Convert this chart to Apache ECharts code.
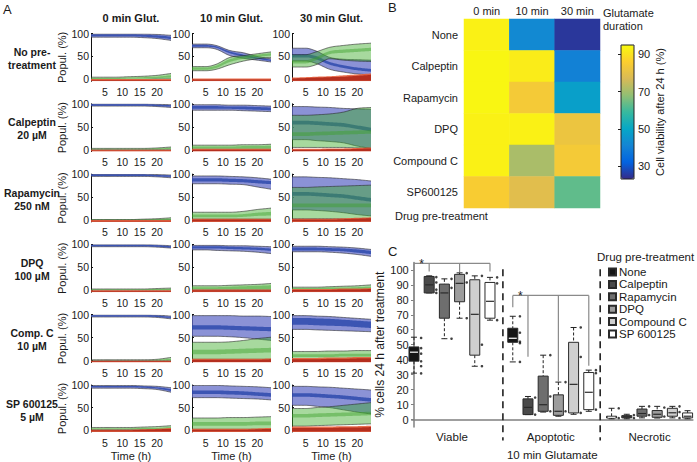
<!DOCTYPE html>
<html><head><meta charset="utf-8">
<script src="https://cdn.jsdelivr.net/npm/echarts@6/dist/echarts.min.js"></script>
<style>html,body{margin:0;padding:0;background:#fff}#c{width:697px;height:462px}</style>
</head><body><div id="c"></div><script>
// ---------------- Panel A data ----------------
const TIME = [1, 5, 8, 12, 16, 20, 24];
const GLUT_LABELS = ['0 min Glut.', '10 min Glut.', '30 min Glut.'];
const PRETREAT_LABELS = ['No pre-\ntreatment', 'Calpeptin\n20 µM', 'Rapamycin\n250 nM', 'DPQ\n100 µM', 'Comp. C\n10 µM', 'SP 600125\n5 µM'];
const X_TICKS_A = [5, 10, 15, 20];
const Y_TICKS_A = [0, 50, 100];
const LOW3 = [-4, -4, -4, -4, -4, -4, -4];
const LOW2 = [-3, -3, -3, -3, -3, -3, -3];

// each band = [lower, upper] over TIME
const none0 = { blueOut: [[92,92,92,92,91,89,85],[99,99,99,99,99,98,96]], blueIn: [[94,94,94,94,93,91,88],[98,98,98,98,97,96,93]],
  greenOut: [[0,0,0,0,0,1,1],[5,5,5,6,7,9,13]], greenIn: [[1,1,1,2,2,3,4],[3,3,3,4,5,6,9]], red: [LOW3,[1,1,1,1,1,1,1]], redIn: [LOW2,[-1,-1,-1,-1,-1,-1,-1]] };
const none10 = { blueOut: [[69,69,66,52,46,42,38],[77,77,74,63,58,50,45]], blueIn: [[71,71,69,57,50,45,40],[75,75,72,61,54,48,43]],
  greenOut: [[19,19,22,32,40,45,48],[28,28,33,48,52,56,60]], greenIn: [[21,21,25,38,45,49,52],[26,26,30,44,50,54,57]], red: [LOW3,[2,2,2,2,2,2,2]], redIn: [LOW2,[0,0,0,0,0,0,0]] };
const none30 = { blueOut: [[40,40,35,22,16,12,10],[68,68,62,48,44,43,42]], blueIn: [[48,48,44,32,25,20,17],[55,55,51,38,31,26,23]],
  greenOut: [[27,27,32,45,42,40,39],[54,54,60,70,74,77,79]], greenIn: [[35,35,42,55,58,60,62],[42,42,49,62,65,67,69]], red: [LOW3,[4,5,6,7,9,11,13]], redIn: [LOW2,[2,3,4,5,6,8,10]] };
const cal0 = { blueOut: [[95,95,95,95,95,94,92],[100,100,100,100,100,99,98]], blueIn: [[96,96,96,96,96,95,94],[99,99,99,99,99,98,97]],
  greenOut: [[0,0,0,0,0,0,0],[3,3,3,3,3,4,6]], greenIn: [[1,1,1,1,1,1,2],[2,2,2,2,2,3,4]], red: [LOW3,[0,0,0,0,0,0,0]], redIn: [LOW2,[-1.5,-1.5,-1.5,-1.5,-1.5,-1.5,-1.5]] };
const cal10 = { blueOut: [[86,86,86,86,85,84,83],[98,98,98,97,97,96,95]], blueIn: [[89,89,89,89,88,87,86],[95,95,95,94,94,93,92]],
  greenOut: [[1,1,1,1,1,1,1],[10,10,10,10,11,11,12]], greenIn: [[3,3,3,3,3,3,3],[7,7,7,7,8,8,9]], red: [LOW3,[2,2,2,2,2,2,2]], redIn: [LOW2,[0,0,0,0,0,0,0]] };
const cal30 = { blueOut: [[22,22,20,18,15,8,3],[94,94,93,92,90,89,88]], blueIn: [[55,55,54,52,50,45,40],[63,63,62,60,58,53,48]],
  greenOut: [[5,5,5,5,5,4,3],[75,75,76,78,82,90,92]], greenIn: [[30,30,31,32,33,34,35],[38,38,39,40,41,42,43]], red: [LOW3,[2,2,2,3,3,4,5]], redIn: [LOW2,[0,0,0,1,1,2,3]] };
const rap0 = { blueOut: [[95,95,95,95,95,94,92],[100,100,100,100,100,99,98]], blueIn: [[96,96,96,96,96,95,94],[99,99,99,99,99,98,97]],
  greenOut: [[0,0,0,0,0,0,0],[1,1,1,1,2,3,5]], greenIn: [[0,0,0,0,0,0,0],[1,1,1,1,1,2,3]], red: [LOW3,[0,0,0,0,0,0,0]], redIn: [LOW2,[-1.5,-1.5,-1.5,-1.5,-1.5,-1.5,-1.5]] };
const rap10 = { blueOut: [[79,79,79,78,77,72,67],[96,96,96,95,94,92,89]], blueIn: [[84,84,84,83,82,80,78],[91,91,91,90,89,87,85]],
  greenOut: [[2,2,2,2,2,2,2],[17,17,17,17,19,23,26]], greenIn: [[6,6,6,6,7,9,10],[12,12,12,12,13,16,18]], red: [LOW3,[3,3,3,3,3,3,3]], redIn: [LOW2,[1,1,1,1,1,1,1]] };
const rap30 = { blueOut: [[22,22,21,19,16,12,9],[94,94,93,92,90,88,85]], blueIn: [[53,53,52,50,48,44,40],[61,61,60,58,56,52,48]],
  greenOut: [[3,3,3,3,3,3,3],[71,71,72,73,74,75,76]], greenIn: [[28,28,28,28,28,28,28],[36,36,36,36,36,36,36]], red: [LOW3,[3,3,3,3,4,5,6]], redIn: [LOW2,[1,1,1,1,2,3,4]] };
const dpq0 = { blueOut: [[95,95,95,95,95,94,92],[100,100,100,100,100,99,97]], blueIn: [[96,96,96,96,96,95,93],[99,99,99,99,99,98,96]],
  greenOut: [[0,0,0,0,0,0,0],[3,3,3,3,3,4,5]], greenIn: [[1,1,1,1,1,1,1],[2,2,2,2,2,3,3]], red: [LOW3,[0,0,0,0,0,0,0]], redIn: [LOW2,[-1.5,-1.5,-1.5,-1.5,-1.5,-1.5,-1.5]] };
const dpq10 = { blueOut: [[88,88,87,86,85,83,80],[98,98,98,97,97,96,95]], blueIn: [[91,91,91,90,89,88,86],[96,96,96,95,94,93,91]],
  greenOut: [[1,1,1,1,1,1,1],[10,10,10,11,12,13,15]], greenIn: [[3,3,3,3,3,3,3],[7,7,7,8,9,10,11]], red: [LOW3,[2,2,2,2,2,2,2]], redIn: [LOW2,[0,0,0,0,0,0,0]] };
const dpq30 = { blueOut: [[84,84,84,83,81,78,74],[96,96,96,95,94,92,89]], blueIn: [[87,87,87,86,85,82,79],[93,93,93,92,91,89,86]],
  greenOut: [[1,1,1,1,1,1,1],[7,7,7,8,9,10,12]], greenIn: [[3,3,3,3,3,3,3],[5,5,5,6,6,7,8]], red: [LOW3,[3,3,3,3,4,4,5]], redIn: [LOW2,[1,1,1,1,2,2,3]] };
const cc0 = { blueOut: [[95,95,95,95,95,94,91],[100,100,100,100,100,99,97]], blueIn: [[96,96,96,96,96,95,93],[99,99,99,99,99,98,95]],
  greenOut: [[0,0,0,0,0,0,0],[2,2,2,2,2,3,7]], greenIn: [[1,1,1,1,1,1,1],[1,1,1,1,1,2,4]], red: [LOW3,[0,0,0,0,0,0,0]], redIn: [LOW2,[-1.5,-1.5,-1.5,-1.5,-1.5,-1.5,-1.5]] };
const cc10 = { blueOut: [[53,53,53,52,50,47,44],[98,98,98,98,97,97,96]], blueIn: [[68,68,68,67,66,65,64],[77,77,77,76,75,74,73]],
  greenOut: [[3,3,3,3,3,3,3],[40,40,40,41,44,48,51]], greenIn: [[14,14,14,15,16,17,18],[24,24,24,25,26,27,28]], red: [LOW3,[4,4,4,4,4,4,5]], redIn: [LOW2,[2,2,2,2,2,2,3]] };
const cc30 = { blueOut: [[68,68,67,66,65,64,63],[98,98,97,96,94,92,90]], blueIn: [[78,78,77,76,75,73,71],[93,93,92,91,89,87,85]],
  greenOut: [[2,2,2,2,2,2,2],[20,20,20,21,21,22,22]], greenIn: [[8,8,8,8,9,9,9],[14,14,14,14,15,15,15]], red: [LOW3,[6,6,6,7,7,8,8]], redIn: [LOW2,[3,3,3,4,4,5,5]] };
const sp0 = { blueOut: [[93,93,93,93,92,90,84],[99,99,99,99,98,97,94]], blueIn: [[95,95,95,95,94,92,87],[98,98,98,98,97,95,91]],
  greenOut: [[1,1,1,1,1,1,1],[6,6,6,6,7,8,10]], greenIn: [[2,2,2,2,2,2,3],[4,4,4,4,5,5,7]], red: [LOW3,[1,1,1,1,2,3,5]], redIn: [LOW2,[0,0,0,0,1,2,3]] };
const sp10 = { blueOut: [[72,72,72,71,70,69,67],[99,99,99,98,97,96,94]], blueIn: [[80,80,80,79,78,76,74],[88,88,88,87,86,84,82]],
  greenOut: [[2,2,2,2,2,2,2],[27,27,27,28,28,29,30]], greenIn: [[10,10,10,10,10,11,11],[18,18,18,18,18,19,19]], red: [LOW3,[3,3,3,3,3,4,5]], redIn: [LOW2,[1,1,1,1,1,2,3]] };
const sp30 = { blueOut: [[55,55,53,50,45,40,36],[97,97,96,95,93,91,89]], blueIn: [[74,74,73,71,69,66,63],[82,82,81,79,77,74,71]],
  greenOut: [[9,9,10,11,12,13,14],[48,48,50,52,55,58,61]], greenIn: [[28,28,29,30,31,32,33],[36,36,37,38,39,40,41]], red: [LOW3,[8,8,8,8,9,9,10]], redIn: [LOW2,[5,5,5,5,6,6,7]] };
const PANELS = [[none0, none10, none30], [cal0, cal10, cal30], [rap0, rap10, rap30], [dpq0, dpq10, dpq30], [cc0, cc10, cc30], [sp0, sp10, sp30]];

// ---------------- Panel B data ----------------
const GLUT_DURATIONS = ['0 min', '10 min', '30 min'];
const DRUGS_B = ['None', 'Calpeptin', 'Rapamycin', 'DPQ', 'Compound C', 'SP600125'];
const VIAB_0 = [93, 94, 94, 93, 93, 85];
const VIAB_10 = [42, 92, 84, 93, 71, 79];
const VIAB_30 = [25, 40, 48, 82, 84, 63];
const CBAR_TICKS = [30, 50, 70, 90];
const PARULA = ['#352A87', '#0363E1', '#1485D4', '#06A7C6', '#38B99E', '#92BF73', '#D9BA56', '#FCCE2E', '#F9FB0E'];

// ---------------- Panel C data ----------------
const DRUGS_C = ['None', 'Calpeptin', 'Rapamycin', 'DPQ', 'Compound C', 'SP 600125'];
const GROUPS_C = ['Viable', 'Apoptotic', 'Necrotic'];
const Y_TICKS_C = [0, 10, 20, 30, 40, 50, 60, 70, 80, 90, 100];
// [min, q1, median, q3, max] for Viable, Apoptotic, Necrotic
const BOX_NONE = [[31, 39, 45, 48.5, 55], [38.5, 51.6, 54.3, 61, 69], [0.5, 1, 1.5, 2.2, 7.5]];
const BOX_CALP = [[84.6, 84.6, 90, 95.6, 96], [3.3, 3.3, 8.1, 13.8, 15.4], [0.5, 1.1, 1.8, 2.6, 3.5]];
const BOX_RAPA = [[54, 67.7, 84.6, 90.5, 94], [5, 5.5, 9.9, 29, 43], [1.1, 2.2, 4, 7, 8.8]];
const BOX_DPQ = [[67.7, 78.7, 91, 97, 98], [2.2, 2.8, 5.5, 16.5, 25], [1, 1.5, 3.5, 6, 8.8]];
const BOX_CC = [[35.6, 43, 70.3, 93.4, 96], [3.5, 4.4, 23.5, 51.6, 61.5], [1.1, 2.2, 4.5, 7.5, 8.8]];
const BOX_SP = [[66.4, 67.7, 79, 91.6, 95], [5.5, 6.6, 18.2, 31.4, 33], [0.5, 1.1, 2.2, 4.4, 5.9]];
const DOTS_NONE = [[54.5, 47.7, 44, 38.9, 35.6, 30.8], [69, 58, 52, 51, 38.5], [7.5, 1]];
const DOTS_CALP = [[95.2, 91.6, 86.8, 84.6], [14.7, 3.3], [3, 1]];
const DOTS_RAPA = [[94, 88, 54], [43, 15.4, 5.5], [8.8, 3]];
const DOTS_DPQ = [[97.8, 91.6, 67.7], [25, 5.5], [8, 2]];
const DOTS_CC = [[96, 50, 35.6], [61.5, 41.8, 4.4], [8.8, 5, 1]];
const DOTS_SP = [[95, 91, 66.4], [33, 31, 6.6], [5.9, 3, 1]];
const BOXES = [BOX_NONE, BOX_CALP, BOX_RAPA, BOX_DPQ, BOX_CC, BOX_SP];
const DOTS = [DOTS_NONE, DOTS_CALP, DOTS_RAPA, DOTS_DPQ, DOTS_CC, DOTS_SP];

// ---------------- styling / layout ----------------
const FONT = '"Liberation Sans", Arial, sans-serif';
const TXT = '#1a1a1a';
const COL_LEFT = [91, 192, 292];
const COL_W = [80, 79, 79];
const ROW_TOP0 = 33.5, ROW_STEP = 70.3, GRID_H = 47.8;
const BAND_STYLE = {
  blueOut: { fill: 'rgba(100,110,200,0.75)', outline: true },
  blueIn: { fill: 'rgba(40,70,170,0.8)', outline: false },
  greenOut: { fill: 'rgba(60,170,40,0.45)', outline: true },
  greenIn: { fill: 'rgba(60,160,40,0.45)', outline: false },
  red: { fill: 'rgba(232,95,60,0.9)', outline: false },
  redIn: { fill: 'rgba(175,40,25,0.9)', outline: false }
};
const BOX_FILL = ['#151515', '#4a4a4a', '#6e6e6e', '#9c9c9c', '#cfcfcf', '#ffffff'];
const MED_COLOR = ['#ffffff', '#2a2a2a', '#2a2a2a', '#2a2a2a', '#2a2a2a', '#2a2a2a'];
const GROUP_STEP = 6.5;
const SEPARATORS = [5.85, 12.25];
const BRACKETS = [
  { group: 0, top: 104.4, legs: [[0, 60.4], [1, 99], [3, 98.5], [5, 99]], star: 0.5 },
  { group: 1, top: 82.9, legs: [[0, 75], [1, 42], [3, 25.5], [5, 36]], star: 0.5 }
];

const option = {
  animation: false,
  backgroundColor: '#fff',
  textStyle: { fontFamily: FONT },
  grid: [], xAxis: [], yAxis: [], series: [], graphic: []
};

// monotone cubic smoothing of pixel points (drawing only)
function smoothPts(pts, seg) {
  const n = pts.length;
  if (n < 3) return pts;
  const dx = [], m = [];
  for (let i = 0; i < n - 1; i++) { dx[i] = pts[i + 1][0] - pts[i][0]; m[i] = (pts[i + 1][1] - pts[i][1]) / dx[i]; }
  const t = [m[0]];
  for (let i = 1; i < n - 1; i++) t[i] = (m[i - 1] * m[i] <= 0) ? 0 : (m[i - 1] + m[i]) / 2;
  t[n - 1] = m[n - 2];
  for (let i = 0; i < n - 1; i++) {
    if (m[i] === 0) { t[i] = 0; t[i + 1] = 0; continue; }
    const a = t[i] / m[i], b = t[i + 1] / m[i], s = a * a + b * b;
    if (s > 9) { const k = 3 / Math.sqrt(s); t[i] = k * a * m[i]; t[i + 1] = k * b * m[i]; }
  }
  const out = [];
  for (let i = 0; i < n - 1; i++) {
    for (let j = 0; j < seg; j++) {
      const u = j / seg, u2 = u * u, u3 = u2 * u;
      const y = (2 * u3 - 3 * u2 + 1) * pts[i][1] + (u3 - 2 * u2 + u) * dx[i] * t[i] + (-2 * u3 + 3 * u2) * pts[i + 1][1] + (u3 - u2) * dx[i] * t[i + 1];
      out.push([pts[i][0] + u * dx[i], y]);
    }
  }
  out.push(pts[n - 1]);
  return out;
}

// ---- Panel A ----
function makeBandRenderer(st) {
  return function (params, api) {
    if (params.dataIndexInside !== 0) return null;
    const n = params.dataInsideLength;
    const up = [], lo = [];
    for (let i = 0; i < n; i++) {
      up.push(api.coord([api.value(0, i), api.value(2, i)]));
      lo.push(api.coord([api.value(0, i), api.value(1, i)]));
    }
    const upS = smoothPts(up, 10), loS = smoothPts(lo, 10);
    const children = [{ type: 'polygon', shape: { points: upS.concat(loS.slice().reverse()) }, style: { fill: st.fill, stroke: null } }];
    if (st.outline) {
      const ls = { stroke: 'rgba(40,40,40,0.85)', lineWidth: 0.7, fill: null };
      children.push({ type: 'polyline', shape: { points: upS }, style: ls });
      children.push({ type: 'polyline', shape: { points: loS }, style: ls });
    }
    return { type: 'group', children };
  };
}
PANELS.forEach((row, r) => row.forEach((p, c) => {
  const k = r * 3 + c;
  option.grid.push({ left: COL_LEFT[c], top: ROW_TOP0 + r * ROW_STEP, width: COL_W[c], height: GRID_H });
  option.xAxis.push({ type: 'value', gridIndex: k, min: 1, max: 24,
    axisLine: { show: false }, axisTick: { show: false }, splitLine: { show: false },
    axisLabel: { customValues: X_TICKS_A, fontSize: 10.5, color: TXT, margin: 5 },
    name: r === 5 ? 'Time (h)' : '', nameLocation: 'middle', nameGap: 18, nameTextStyle: { fontSize: 11, color: TXT } });
  option.yAxis.push({ type: 'value', gridIndex: k, min: -4, max: 100,
    axisLine: { show: true, lineStyle: { color: '#111', width: 1 } },
    axisTick: { show: true, inside: true, length: 2, customValues: Y_TICKS_A, lineStyle: { color: '#111' } },
    axisLabel: { customValues: Y_TICKS_A, fontSize: 10.5, color: TXT, margin: 2 }, splitLine: { show: false },
    name: c === 0 ? 'Popul. (%)' : '', nameLocation: 'middle', nameRotate: 90, nameGap: 19, nameTextStyle: { fontSize: 11, color: TXT } });
  ['blueOut', 'blueIn', 'greenOut', 'greenIn', 'red', 'redIn'].forEach(key => {
    const band = p[key];
    option.series.push({ type: 'custom', xAxisIndex: k, yAxisIndex: k, silent: true, clip: true,
      renderItem: makeBandRenderer(BAND_STYLE[key]), encode: { x: 0, y: [1, 2] },
      data: TIME.map((t, i) => [t, band[0][i], band[1][i]]) });
  });
}));
GLUT_LABELS.forEach((t, c) => option.graphic.push({ type: 'text', x: COL_LEFT[c] + COL_W[c] / 2, y: 18,
  style: { text: t, font: 'bold 11px ' + FONT, fill: TXT, align: 'center', verticalAlign: 'middle' } }));
PRETREAT_LABELS.forEach((t, r) => option.graphic.push({ type: 'text', x: 32, y: ROW_TOP0 + r * ROW_STEP + 25,
  style: { text: t, font: 'bold 10.5px ' + FONT, fill: TXT, align: 'center', verticalAlign: 'middle', lineHeight: 13 } }));
option.graphic.push({ type: 'text', x: 3, y: 3, style: { text: 'A', font: '13px ' + FONT, fill: TXT } });

// ---- Panel B ----
const HEAT_GRID = 18;
option.grid.push({ left: 464, top: 19, width: 136, height: 189 });
option.xAxis.push({ type: 'category', gridIndex: HEAT_GRID, data: GLUT_DURATIONS, position: 'top',
  axisLine: { show: false }, axisTick: { show: false }, splitLine: { show: false }, axisLabel: { fontSize: 11, color: TXT, margin: 3 } });
option.yAxis.push({ type: 'category', gridIndex: HEAT_GRID, data: DRUGS_B, inverse: true,
  axisLine: { show: false }, axisTick: { show: false }, splitLine: { show: false }, axisLabel: { fontSize: 11, color: TXT, margin: 6 } });
const HEAT_SERIES = option.series.length;
const heatData = [];
[VIAB_0, VIAB_10, VIAB_30].forEach((col, x) => col.forEach((v, y) => heatData.push([x, y, v])));
option.series.push({ type: 'heatmap', xAxisIndex: HEAT_GRID, yAxisIndex: HEAT_GRID, data: heatData, silent: true, itemStyle: { borderWidth: 0 } });
// colorbar axis
const CB_GRID = 19;
option.grid.push({ left: 621, top: 45, width: 13, height: 134, show: true, borderColor: '#222', borderWidth: 1, backgroundColor: 'transparent', z: 10 });
option.xAxis.push({ type: 'value', gridIndex: CB_GRID, show: false, min: 0, max: 1 });
option.yAxis.push({ type: 'value', gridIndex: CB_GRID, min: 23, max: 95, position: 'right', z: 10,
  axisLine: { show: false }, splitLine: { show: false },
  axisTick: { show: true, inside: true, length: 3, customValues: CBAR_TICKS, lineStyle: { color: '#222' } },
  axisLabel: { customValues: CBAR_TICKS, fontSize: 11, color: TXT, margin: 4 },
  name: 'Cell viability after 24 h (%)', nameLocation: 'middle', nameRotate: 90, nameGap: 20, nameTextStyle: { fontSize: 11, color: TXT } });
option.visualMap = [{ type: 'continuous', min: 23, max: 95, seriesIndex: HEAT_SERIES, left: 621, top: 45,
  itemWidth: 13, itemHeight: 134, padding: 0, calculable: false, text: null, showLabel: false, hoverLink: false,
  orient: 'vertical', inRange: { color: PARULA } }];
option.graphic.push({ type: 'text', x: 388, y: 1, style: { text: 'B', font: '13px ' + FONT, fill: TXT } });
option.graphic.push({ type: 'text', x: 603, y: 6, style: { text: 'Glutamate\nduration', font: '11px ' + FONT, fill: TXT, lineHeight: 13 } });
option.graphic.push({ type: 'text', x: 395, y: 216, style: { text: 'Drug pre-treatment', font: '11px ' + FONT, fill: TXT, verticalAlign: 'middle' } });

// ---- Panel C ----
const C_GRID = 20;
option.grid.push({ left: 411.7, top: 262.4, width: 281.2, height: 167.2 });
option.xAxis.push({ type: 'value', gridIndex: C_GRID, min: -0.15, max: 18.35,
  axisLine: { show: true, lineStyle: { color: '#808080', width: 1.5 } }, axisTick: { show: false }, splitLine: { show: false },
  axisLabel: { customValues: GROUPS_C.map((g, i) => i * GROUP_STEP + 2.5), formatter: v => GROUPS_C[Math.round((v - 2.5) / GROUP_STEP)], fontSize: 11.5, color: TXT, margin: 4 },
  name: '10 min Glutamate', nameLocation: 'middle', nameGap: 22, nameTextStyle: { fontSize: 11.5, color: TXT } });
option.yAxis.push({ type: 'value', gridIndex: C_GRID, min: -5, max: 105,
  axisLine: { show: true, lineStyle: { color: '#808080', width: 1.5 } },
  axisTick: { show: true, length: 3, customValues: Y_TICKS_C, lineStyle: { color: '#808080' } },
  axisLabel: { customValues: Y_TICKS_C, fontSize: 11, color: TXT, margin: 3 }, splitLine: { show: false },
  name: '% cells 24 h after treatment', nameLocation: 'middle', nameRotate: 90, nameGap: 23, nameTextStyle: { fontSize: 12, color: TXT } });

let BOX_SERIES0 = 0;
function renderBox(params, api) {
  const x = api.value(0);
  const pMin = api.coord([x, api.value(1)]), pQ1 = api.coord([x, api.value(2)]), pMed = api.coord([x, api.value(3)]);
  const pQ3 = api.coord([x, api.value(4)]), pMax = api.coord([x, api.value(5)]);
  const cx = pMin[0], hw = 5, cap = 3;
  const s = api.style();
  const dash = { stroke: '#222', lineWidth: 1, lineDash: [3, 2] };
  const solid = { stroke: '#222', lineWidth: 1 };
  return { type: 'group', children: [
    { type: 'line', shape: { x1: cx, y1: pMax[1], x2: cx, y2: pQ3[1] }, style: dash },
    { type: 'line', shape: { x1: cx, y1: pQ1[1], x2: cx, y2: pMin[1] }, style: dash },
    { type: 'line', shape: { x1: cx - cap, y1: pMax[1], x2: cx + cap, y2: pMax[1] }, style: solid },
    { type: 'line', shape: { x1: cx - cap, y1: pMin[1], x2: cx + cap, y2: pMin[1] }, style: solid },
    { type: 'rect', shape: { x: cx - hw, y: pQ3[1], width: 2 * hw, height: Math.max(1, pQ1[1] - pQ3[1]) }, style: { fill: s.fill, stroke: '#2a2a2a', lineWidth: 1 } },
    { type: 'line', shape: { x1: cx - hw + 1, y1: pMed[1], x2: cx + hw - 1, y2: pMed[1] }, style: { stroke: MED_COLOR[params.seriesIndex - BOX_SERIES0], lineWidth: 1.2 } }
  ] };
}
BOX_SERIES0 = option.series.length;
DRUGS_C.forEach((name, i) => {
  option.series.push({ type: 'custom', name, xAxisIndex: C_GRID, yAxisIndex: C_GRID, renderItem: renderBox,
    itemStyle: { color: BOX_FILL[i], borderColor: '#2a2a2a', borderWidth: 1 },
    encode: { x: 0, y: [1, 2, 3, 4, 5] }, silent: true,
    data: BOXES[i].map((b, g) => [g * GROUP_STEP + i].concat(b)) });
});
const dotData = [];
DOTS.forEach((d, i) => d.forEach((vals, g) => vals.forEach(v => dotData.push([g * GROUP_STEP + i + 0.47, v]))));
option.series.push({ type: 'scatter', xAxisIndex: C_GRID, yAxisIndex: C_GRID, data: dotData, symbolSize: 2.6, silent: true, itemStyle: { color: '#111' } });
function renderAnnot(params, api) {
  const children = [];
  const L = (x1, y1, x2, y2, style) => { const a = api.coord([x1, y1]), b = api.coord([x2, y2]); children.push({ type: 'line', shape: { x1: a[0], y1: a[1], x2: b[0], y2: b[1] }, style }); };
  SEPARATORS.forEach(x => L(x, 100.5, x, -14, { stroke: '#222', lineWidth: 1.6, lineDash: [7, 5] }));
  const bs = { stroke: '#8a8a8a', lineWidth: 1.2 };
  BRACKETS.forEach(br => {
    const off = br.group * GROUP_STEP;
    L(off + br.legs[0][0], br.top, off + br.legs[br.legs.length - 1][0], br.top, bs);
    br.legs.forEach(([x, y]) => L(off + x, br.top, off + x, y, bs));
    const s = api.coord([off + br.star, br.top]);
    children.push({ type: 'text', x: s[0], y: s[1] + 1, style: { text: '*', font: '12px ' + FONT, fill: TXT, align: 'center', verticalAlign: 'middle' } });
  });
  return { type: 'group', children };
}
option.series.push({ type: 'custom', xAxisIndex: C_GRID, yAxisIndex: C_GRID, renderItem: renderAnnot, data: [[0, 0]], silent: true, clip: false, z: 1 });
option.legend = { data: DRUGS_C, orient: 'vertical', left: 608, top: 266, icon: 'rect', itemWidth: 7, itemHeight: 7, itemGap: 0.4,
  padding: 0, selectedMode: false, textStyle: { fontSize: 11.5, color: TXT, lineHeight: 12, padding: [0, 0, 0, -2] } };
option.graphic.push({ type: 'text', x: 388, y: 245, style: { text: 'C', font: '13px ' + FONT, fill: TXT } });
option.graphic.push({ type: 'text', x: 597, y: 257, style: { text: 'Drug pre-treatment', font: '11.5px ' + FONT, fill: TXT, verticalAlign: 'middle' } });

const chart = echarts.init(document.getElementById('c'), null, { renderer: 'svg', width: 697, height: 462 });
chart.setOption(option);
</script></body></html>
